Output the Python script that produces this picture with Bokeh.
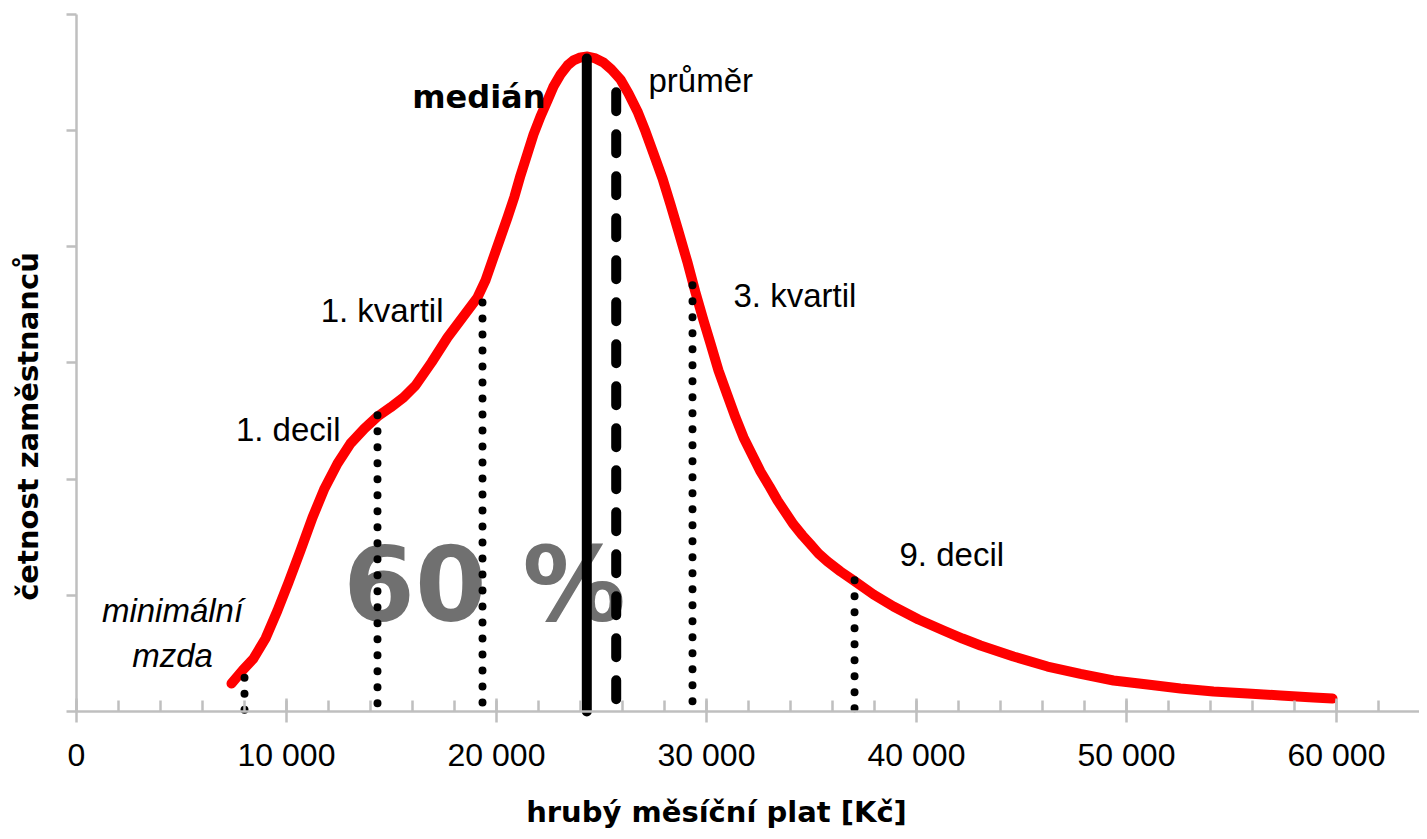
import math
from bokeh.plotting import figure
from bokeh.models import Range1d, SingleIntervalTicker, FixedTicker, Label
from bokeh.core.properties import value
from bokeh.embed import file_html
from bokeh.resources import INLINE

# --- data ---
curve_x = [7381, 7905, 8429, 9000, 9571, 10095, 10667, 11238, 11810, 12429,
           13048, 13714, 14333, 14952, 15571, 16143, 16905, 17667, 18381, 19095,
           19476, 19857, 20190, 20524, 20857, 21143, 21476, 21762, 22095, 22429,
           22714, 23048, 23381, 23667, 24000, 24333, 24714, 25095, 25476, 25905,
           26286, 26714, 27095, 27476, 27905, 28286, 28667, 29095, 29476, 29857,
           30190, 30571, 31000, 31381, 31762, 32190, 32571, 33000, 33381, 33762,
           34143, 34571, 34952, 35333, 35762, 36381, 37000, 37952, 38905, 40095,
           41286, 42190, 43048, 44619, 46238, 47810, 49381, 51000, 52571, 54143,
           55762, 57333, 58905, 59810]
curve_y = [0.241, 0.353, 0.456, 0.628, 0.869, 1.110, 1.386, 1.670, 1.920, 2.135,
           2.307, 2.436, 2.539, 2.617, 2.703, 2.806, 3.004, 3.219, 3.392, 3.564,
           3.710, 3.908, 4.080, 4.252, 4.433, 4.614, 4.803, 4.967, 5.122, 5.259,
           5.380, 5.483, 5.561, 5.604, 5.630, 5.638, 5.621, 5.587, 5.526, 5.440,
           5.320, 5.165, 4.993, 4.803, 4.588, 4.364, 4.132, 3.865, 3.607, 3.366,
           3.168, 2.935, 2.720, 2.531, 2.359, 2.204, 2.066, 1.937, 1.816, 1.713,
           1.610, 1.515, 1.438, 1.360, 1.291, 1.205, 1.128, 1.007, 0.904, 0.792,
           0.697, 0.628, 0.568, 0.473, 0.387, 0.323, 0.267, 0.232, 0.198, 0.172,
           0.155, 0.138, 0.121, 0.112]

dotted_names = ["minimální mzda", "1. decil", "1. kvartil", "3. kvartil", "9. decil"]
dotted_x = [8000, 14333, 19333, 29333, 37050]
dotted_top = [0.29, 2.55, 3.52, 3.67, 1.13]

median_x = [24300]
median_top = [5.62]
mean_x = [25700]
mean_top = [5.33]

share_text = ["60 %"]
share_x = [19429]
share_y = [1.09]

x_ticks = [0, 10000, 20000, 30000, 40000, 50000, 60000]
x_tick_labels = ["0", "10 000", "20 000", "30 000", "40 000", "50 000", "60 000"]
y_ticks = [0, 1, 2, 3, 4, 5, 6]
x_max = 63952
y_max = 6

x_title = "hrubý měsíční plat [Kč]"
y_title = "četnost zaměstnanců"

AXIS = "#bfbfbf"

# The frame fills the whole figure; the axes sit at x=0 / y=0 (fixed_location),
# so that the axis titles can be placed freely as labels inside the frame.
p = figure(width=1419, height=831, x_range=Range1d(-3619, x_max),
           y_range=Range1d(-1.033, 6.12),
           output_backend="svg", toolbar_location=None,
           min_border_left=0, min_border_right=0, min_border_top=0, min_border_bottom=0)
p.outline_line_color = None
p.grid.visible = False
p.background_fill_color = "white"

# x axis
xa = p.xaxis[0]
xa.fixed_location = 0
xa.bounds = (0, x_max)
xa.ticker = SingleIntervalTicker(interval=10000, num_minor_ticks=5)
xa.major_label_overrides = {t: l for t, l in zip(x_ticks, x_tick_labels)}
xa.axis_line_color = AXIS
xa.axis_line_width = 2.5
xa.major_tick_line_color = AXIS
xa.major_tick_line_width = 2.5
xa.major_tick_in = 13
xa.major_tick_out = 11
xa.minor_tick_line_color = AXIS
xa.minor_tick_line_width = 2.5
xa.minor_tick_in = 11
xa.minor_tick_out = 0
xa.major_label_text_font = "Liberation Sans"
xa.major_label_text_font_size = "32px"
xa.major_label_text_color = "black"
xa.major_label_standoff = 15

# y axis
ya = p.yaxis[0]
ya.fixed_location = 0
ya.bounds = (0, y_max)
ya.ticker = FixedTicker(ticks=y_ticks, minor_ticks=[])
ya.axis_line_color = AXIS
ya.axis_line_width = 2.5
ya.major_tick_line_color = AXIS
ya.major_tick_line_width = 2.5
ya.major_tick_in = 0
ya.major_tick_out = 10
ya.minor_tick_line_color = None
ya.major_label_text_font_size = "0px"
ya.major_label_standoff = 0
ya.major_label_overrides = {t: "" for t in y_ticks}

# big share text (under the lines)
p.text(x=share_x, y=share_y, text=share_text, text_font=value("DejaVu Sans"),
       text_font_style="bold", text_font_size="103px", text_color="#707070",
       text_align="center", text_baseline="middle")

# distribution curve
p.line(curve_x, curve_y, line_color="#ff0000", line_width=10,
       line_cap="round", line_join="round")

# dotted lines for quantiles
p.segment(x0=dotted_x, y0=dotted_top, x1=dotted_x, y1=[0] * len(dotted_x),
          line_color="black", line_width=8, line_dash="0 16", line_cap="round")

# median
p.segment(x0=median_x, y0=median_top, x1=median_x, y1=[0], line_color="black",
          line_width=10, line_cap="round")
# mean
p.segment(x0=mean_x, y0=mean_top, x1=mean_x, y1=[0], line_color="black",
          line_width=10, line_dash="19 23", line_cap="round")

REG = dict(text_font="Liberation Sans", text_font_size="33px", text_color="black",
           text_baseline="middle")

p.add_layout(Label(x=22333, y=5.29, text="medián", text_align="right",
                   text_font="DejaVu Sans", text_font_style="bold",
                   text_font_size="32px", text_baseline="middle", text_color="black"))
p.add_layout(Label(x=27238, y=5.43, text="průměr", text_align="left", **REG))
p.add_layout(Label(x=17476, y=3.45, text="1. kvartil", text_align="right", **REG))
p.add_layout(Label(x=31286, y=3.58, text="3. kvartil", text_align="left", **REG))
p.add_layout(Label(x=12571, y=2.43, text="1. decil", text_align="right", **REG))
p.add_layout(Label(x=39190, y=1.35, text="9. decil", text_align="left", **REG))
ITA = dict(text_font="Liberation Sans", text_font_size="33px", text_color="black",
           text_baseline="middle", text_font_style="italic", text_align="center")
p.add_layout(Label(x=4571, y=0.87, text="minimální", **ITA))
p.add_layout(Label(x=4571, y=0.48, text="mzda", **ITA))

# axis titles
TITLE = dict(text_font="DejaVu Sans", text_font_style="bold", text_font_size="29px",
             text_color="black", text_align="center", text_baseline="middle")
p.add_layout(Label(x=30476, y=-0.865, text=x_title, **TITLE))
p.add_layout(Label(x=-2333, y=2.453, text=y_title, angle=math.pi / 2, **TITLE))

open("out.html", "w").write(file_html(p, INLINE))
